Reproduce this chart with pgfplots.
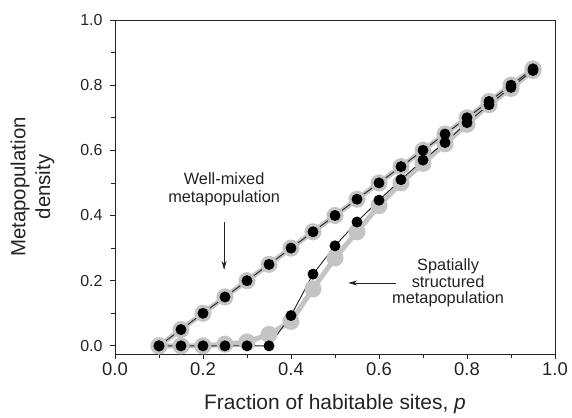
\documentclass[border=0pt]{standalone}
\usepackage{pgfplots}
\pgfplotsset{compat=1.18}
\usepackage{fontspec}
\setmainfont{Liberation Sans}
\usetikzlibrary{arrows.meta}

\definecolor{halo}{RGB}{196,196,196}
\definecolor{ink}{RGB}{35,35,35}

\begin{document}
\begin{tikzpicture}
\begin{axis}[
    scale only axis,
    width=440bp, height=334bp,
    xmin=0, xmax=1, ymin=-0.025, ymax=1,
    xtick={0,0.2,...,1.0}, ytick={0,0.2,...,1.0},
    minor x tick num=1, minor y tick num=1,
    tick align=outside,
    xtick pos=bottom, ytick pos=left,
    major tick length=5bp, minor tick length=4bp,
    axis line style={ink, line width=0.8bp},
    every tick/.style={ink, line width=0.8bp},
    xticklabel style={font=\fontsize{18.5}{20}\selectfont, text=ink, yshift=0bp},
    yticklabel style={font=\fontsize{16}{18}\selectfont, text=ink, xshift=-4bp},
    /pgf/number format/.cd, fixed, fixed zerofill, precision=1, assume math mode=true,
    /pgfplots/.cd,
    xlabel={Fraction of habitable sites, \textit{p}},
    every axis x label/.style={at={(axis description cs:0.5,-0.165)}, anchor=base,
        font=\fontsize{21}{24}\selectfont, text=ink},
    ylabel={Metapopulation\\density},
    every axis y label/.style={at={(axis description cs:-0.1875,0.5)}, rotate=90, anchor=center,
        font=\fontsize{20.5}{25}\selectfont, text=ink, align=center},
    clip=false,
]
% gray underlays
\addplot[halo, line width=5bp, mark=*, mark size=6bp, mark options={halo}] coordinates {
 (0.10,0) (0.15,0.05) (0.20,0.10) (0.25,0.15) (0.30,0.20) (0.35,0.25) (0.40,0.30) (0.45,0.35)
 (0.50,0.40) (0.55,0.45) (0.60,0.50) (0.65,0.55) (0.70,0.60) (0.75,0.65) (0.80,0.70)
 (0.85,0.75) (0.90,0.80) (0.95,0.85)
};
\addplot[halo, line width=5bp, mark=*, mark size=6bp, mark options={halo}] coordinates {
 (0.10,0) (0.15,0) (0.20,0) (0.25,0.005) (0.30,0.012) (0.35,0.035) (0.40,0.075) (0.45,0.175)
 (0.50,0.27) (0.55,0.35) (0.60,0.43) (0.65,0.50) (0.70,0.56) (0.75,0.62) (0.80,0.68)
 (0.85,0.74) (0.90,0.79) (0.95,0.845)
};
% black simulation points
\addplot[ink, line width=0.9bp, mark=*, mark size=5bp, mark options={black}] coordinates {
 (0.10,0) (0.15,0.05) (0.20,0.10) (0.25,0.15) (0.30,0.20) (0.35,0.25) (0.40,0.30) (0.45,0.35)
 (0.50,0.40) (0.55,0.45) (0.60,0.50) (0.65,0.55) (0.70,0.60) (0.75,0.65) (0.80,0.70)
 (0.85,0.75) (0.90,0.80) (0.95,0.85)
};
\addplot[ink, line width=0.9bp, mark=*, mark size=5bp, mark options={black}] coordinates {
 (0.10,0) (0.15,0) (0.20,0) (0.25,0) (0.30,0) (0.35,0) (0.40,0.093) (0.45,0.22)
 (0.50,0.307) (0.55,0.38) (0.60,0.447) (0.65,0.51) (0.70,0.57) (0.75,0.624) (0.80,0.685)
 (0.85,0.74) (0.90,0.793) (0.95,0.845)
};
% annotations
\node[align=center, font=\fontsize{16.4}{17.5}\selectfont, text=ink] at (axis cs:0.248,0.48)
  {Well-mixed\\metapopulation};
\draw[ink, line width=0.8bp, -{Stealth[length=9bp,width=5bp]}] (axis cs:0.248,0.38) -- (axis cs:0.248,0.233);
\node[align=center, font=\fontsize{16.4}{16.5}\selectfont, text=ink] at (axis cs:0.757,0.193)
  {Spatially\\structured\\metapopulation};
\draw[ink, line width=0.8bp, -{Stealth[length=9bp,width=5bp]}] (axis cs:0.639,0.193) -- (axis cs:0.53,0.193);
\end{axis}
\path (current axis.south west) ++(-115bp,-64bp);
\path (current axis.north east) ++(17bp,20bp);
\end{tikzpicture}
\end{document}
